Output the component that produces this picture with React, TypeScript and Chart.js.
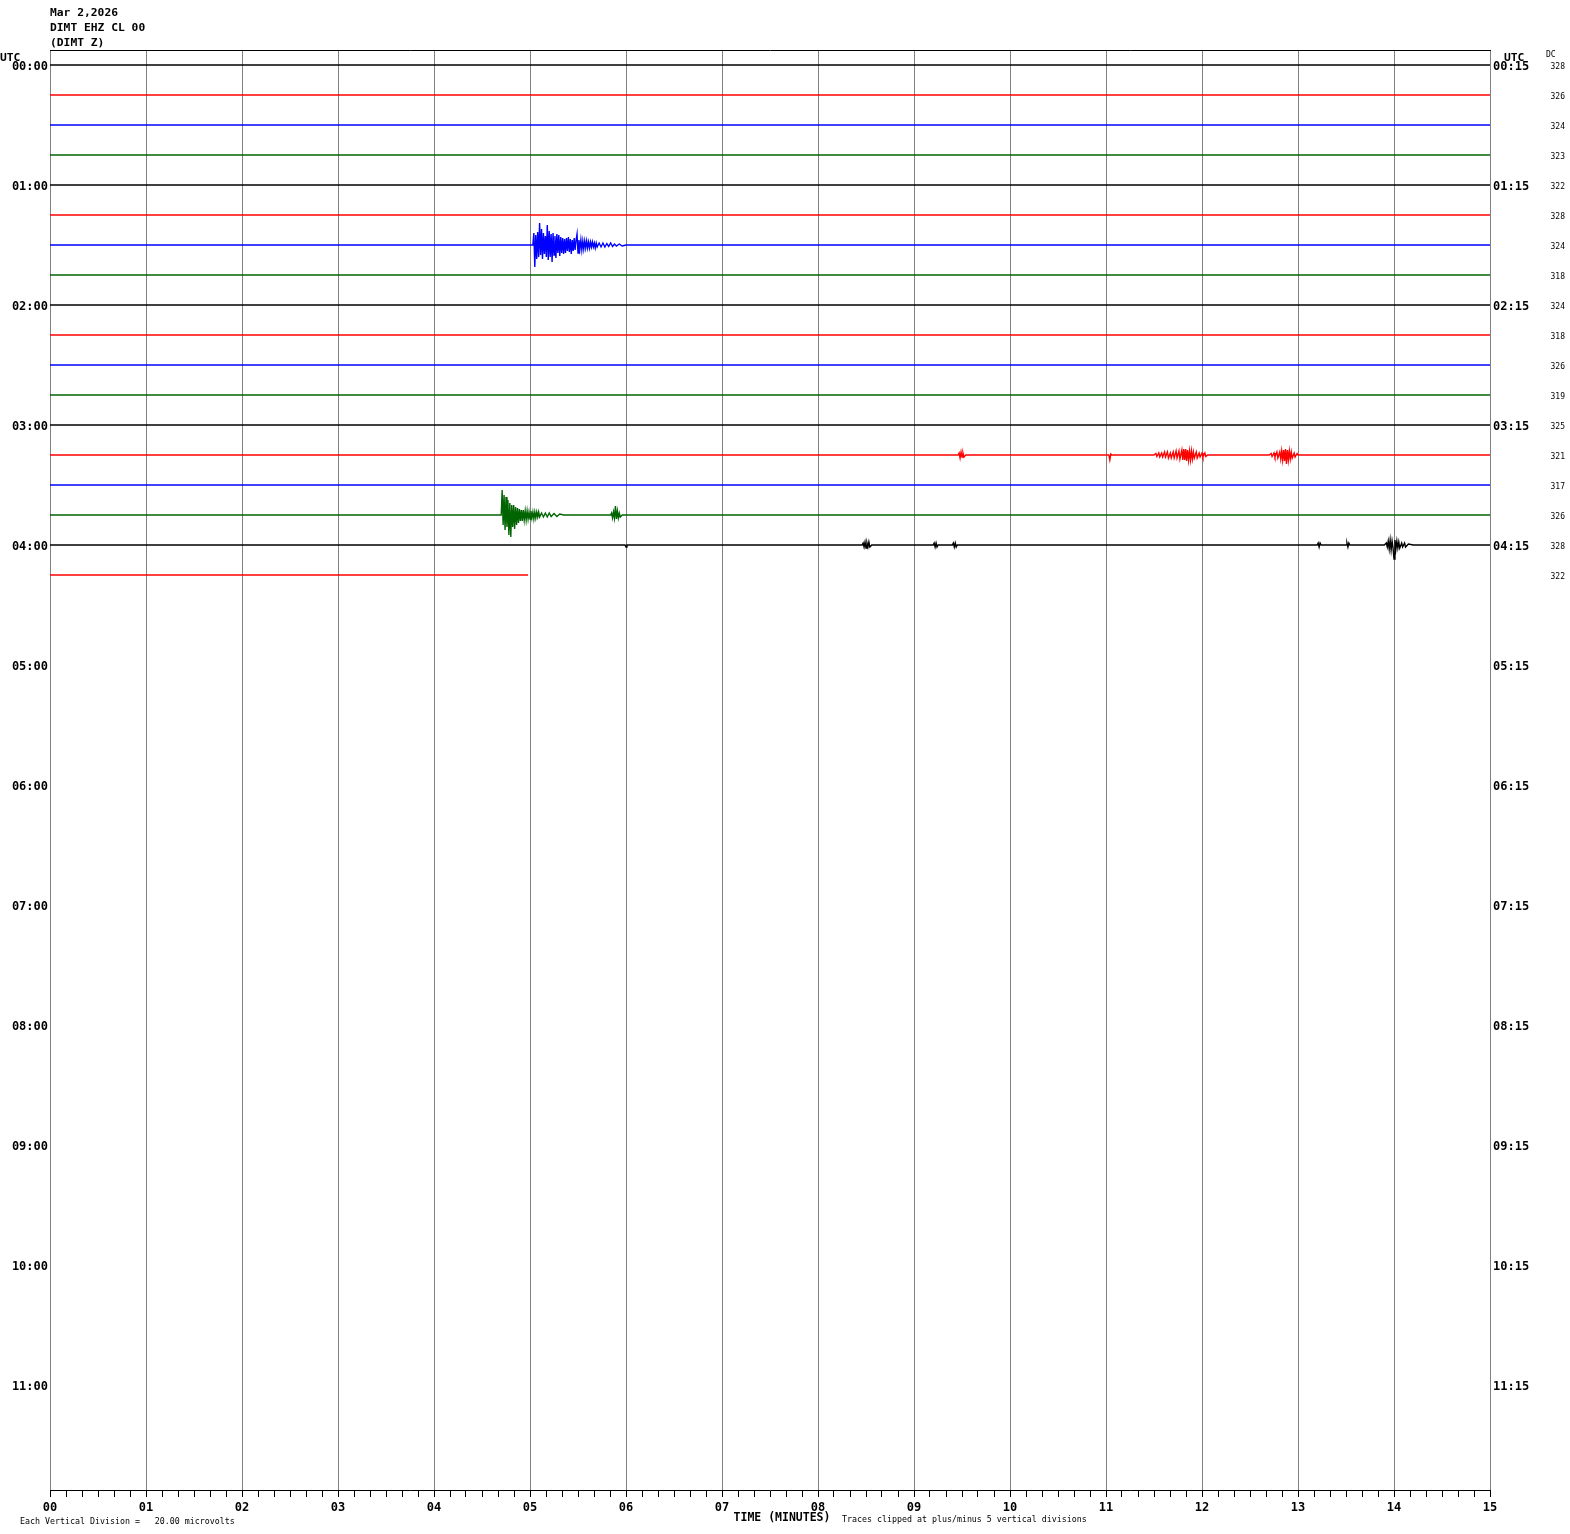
import React, { useEffect, useRef } from "react";
import { Chart, registerables } from "chart.js";

Chart.register(...registerables);

// ---------- DATA ----------
const TITLE_LINES = ["Mar 2,2026", "DIMT EHZ CL 00", "(DIMT Z)"];
const LEFT_LABELS = ["00:00", "01:00", "02:00", "03:00", "04:00", "05:00", "06:00", "07:00", "08:00", "09:00", "10:00", "11:00"];
const RIGHT_LABELS = ["00:15", "01:15", "02:15", "03:15", "04:15", "05:15", "06:15", "07:15", "08:15", "09:15", "10:15", "11:15"];
const X_TICK_LABELS = ["00", "01", "02", "03", "04", "05", "06", "07", "08", "09", "10", "11", "12", "13", "14", "15"];
const ROW_COLORS = ["#000000", "#ff0000", "#0000ff", "#006400"];
const DC_VALUES = [328, 326, 324, 323, 322, 328, 324, 318, 324, 318, 326, 319, 325, 321, 317, 326, 328, 322];
const ROW_END_MINUTES = [15, 15, 15, 15, 15, 15, 15, 15, 15, 15, 15, 15, 15, 15, 15, 15, 15, 4.98];
const TOTAL_ROWS = 48;

// events: [minute, offset in vertical px (up positive)]
const BLUE_0130_EVENT: [number, number][] = [
  [5.03, 0], [5.04, 12], [5.05, -22], [5.06, 10], [5.07, -14], [5.08, 13], [5.09, -12], [5.10, 22],
  [5.11, -10], [5.12, 16], [5.13, -14], [5.14, 12], [5.15, -9], [5.16, 9], [5.17, -12], [5.18, 20],
  [5.19, -15], [5.20, 14], [5.21, -12], [5.22, 11], [5.23, -17], [5.24, 12], [5.25, -10], [5.26, 9],
  [5.27, -13], [5.28, 11], [5.29, -8], [5.30, 10], [5.31, -11], [5.32, 8], [5.33, -8], [5.34, 7],
  [5.35, -9], [5.36, 6], [5.37, -8], [5.38, 7], [5.39, -6], [5.40, 8], [5.41, -7], [5.42, 6],
  [5.43, -9], [5.44, 5], [5.45, -6], [5.46, 7], [5.47, -5], [5.48, 5],
  [5.49, 11], [5.50, -8], [5.51, 5], [5.52, -4], [5.53, 5], [5.54, -5], [5.55, 4], [5.56, -4],
  [5.57, 4], [5.58, -3], [5.59, 4], [5.60, -3], [5.61, 3], [5.62, -3], [5.63, 3], [5.64, -2],
  [5.65, 3], [5.66, -2], [5.67, 2], [5.68, -3], [5.69, 2], [5.70, -2], [5.72, 2], [5.74, -2],
  [5.76, 2], [5.78, -2], [5.80, 1.5], [5.82, -1.5], [5.84, 2], [5.86, -1.5], [5.88, 1], [5.90, -1],
  [5.93, 1], [5.96, -1], [6.0, 0],
];
const GREEN_0345_EVENT: [number, number][] = [
  [4.70, 0], [4.71, 25], [4.72, -10], [4.73, 20], [4.74, -15], [4.75, 18], [4.76, -12], [4.77, 15],
  [4.78, -20], [4.79, 12], [4.80, -22], [4.81, 10], [4.82, -12], [4.83, 10], [4.84, -14], [4.85, 8],
  [4.86, -10], [4.87, 7], [4.88, -8], [4.89, 6], [4.90, -6], [4.91, 5], [4.92, -6], [4.93, 5],
  [4.94, -5], [4.95, 4], [4.96, -5], [4.97, 4], [4.98, -4], [4.99, 3], [5.00, -4], [5.01, 4],
  [5.02, -3], [5.03, 3], [5.04, -4], [5.05, 3], [5.06, -3], [5.07, 3], [5.08, -2], [5.09, 3],
  [5.10, -2], [5.12, 2], [5.14, -2], [5.16, 2], [5.18, -2], [5.20, 2], [5.22, -1.5], [5.25, 1.5],
  [5.28, -1.5], [5.31, 1], [5.35, 0],
  [5.84, 0], [5.85, 2], [5.86, -3], [5.87, 3], [5.88, -3], [5.89, 9], [5.90, -4], [5.91, 4],
  [5.92, -3], [5.93, 2], [5.94, -2], [5.96, 0],
];
const RED_0315_EVENT: [number, number][] = [
  [9.46, 0], [9.47, 2], [9.48, -3], [9.49, 3], [9.50, -2], [9.51, 2], [9.52, -2], [9.54, 0],
  [11.03, 0], [11.04, -5], [11.05, 1], [11.06, 0],
  [11.50, 0], [11.52, 1.5], [11.53, -1.5], [11.55, 2], [11.56, -2], [11.58, 2], [11.59, -2], [11.61, 3],
  [11.62, -2], [11.64, 3], [11.65, -3], [11.67, 2], [11.68, -3], [11.70, 3], [11.71, -3], [11.73, 4],
  [11.74, -3], [11.76, 4], [11.77, -4], [11.79, 5], [11.80, -5], [11.81, 6], [11.82, -5], [11.83, 6],
  [11.84, -6], [11.85, 5], [11.86, -5], [11.87, 4], [11.88, -5], [11.89, 4], [11.90, -4], [11.91, 3],
  [11.92, -3], [11.94, 3], [11.95, -3], [11.97, 2], [11.98, -2], [12.00, 2], [12.01, -2], [12.03, 2],
  [12.04, -1.5], [12.06, 0],
  [12.70, 0], [12.72, 1.5], [12.73, -1.5], [12.75, 2], [12.76, -2], [12.78, 3], [12.79, -3], [12.81, 3],
  [12.82, -4], [12.83, 4], [12.84, -5], [12.85, 5], [12.86, -6], [12.87, 6], [12.88, -9], [12.89, 5],
  [12.90, -5], [12.91, 4], [12.92, -4], [12.93, 3], [12.94, -3], [12.96, 2], [12.97, -2], [12.99, 1.5],
  [13.0, 0],
];
const BLACK_0400_EVENT: [number, number][] = [
  [5.99, 0], [6.0, -2], [6.01, 0],
  [8.46, 0], [8.47, 2], [8.48, -2], [8.49, 3], [8.50, -3], [8.51, 2], [8.52, -2], [8.53, 3], [8.54, -2], [8.56, 0],
  [9.20, 0], [9.21, 2], [9.22, -2], [9.23, 2], [9.24, -2], [9.25, 0],
  [9.40, 0], [9.41, 2], [9.42, -2], [9.43, 2], [9.44, -2], [9.45, 0],
  [13.20, 0], [13.21, 2], [13.22, -2], [13.23, 2], [13.24, 0],
  [13.50, 0], [13.51, 2], [13.52, -2], [13.53, 2], [13.54, 0],
  [13.90, 0], [13.92, 2], [13.93, -2], [13.94, 4], [13.95, -4], [13.96, 5], [13.97, -5], [13.98, 4],
  [13.99, -3], [14.00, -14], [14.01, 5], [14.02, -4], [14.03, 4], [14.04, -3], [14.05, 3], [14.06, -3],
  [14.08, 2], [14.09, -2], [14.11, 2], [14.12, -2], [14.15, 1], [14.2, 0],
];
const ROW_EVENTS: Record<number, [number, number][]> = {
  6: BLUE_0130_EVENT,
  13: RED_0315_EVENT,
  15: GREEN_0345_EVENT,
  16: BLACK_0400_EVENT,
};

const FOOT_LEFT = "Each Vertical Division =   20.00 microvolts";
const FOOT_MID = "TIME (MINUTES)";
const FOOT_RIGHT = "Traces clipped at plus/minus 5 vertical divisions";

// ---------- CHART ----------
const ROW_PX = 30;
const LABEL_SHIFT = 0.05;
const MONO = "'DejaVu Sans Mono', monospace";
const isMajor = (v: number) => Math.abs(v - Math.round(v)) < 1e-6;

function buildDatasets() {
  return DC_VALUES.map((_, row) => {
    const ev = ROW_EVENTS[row] || [];
    const pts = [{ x: 0, y: row }];
    ev.forEach(([m, off]) => pts.push({ x: m, y: row - off / ROW_PX }));
    pts.push({ x: ROW_END_MINUTES[row], y: row });
    pts.sort((a, b) => a.x - b.x);
    return {
      data: pts,
      borderColor: ROW_COLORS[row % 4],
      borderWidth: 1.4,
      pointRadius: 0,
      tension: 0,
      fill: false,
      yAxisID: "y",
    };
  });
}

const textPlugin = {
  id: "helitext",
  afterDraw(chart: any) {
    const { ctx, chartArea } = chart;
    const yScale = chart.scales.y;
    ctx.save();
    ctx.strokeStyle = "#000";
    ctx.lineWidth = 1;
    ctx.beginPath();
    ctx.moveTo(chartArea.left, chartArea.top + 0.5);
    ctx.lineTo(chartArea.right + 1, chartArea.top + 0.5);
    ctx.stroke();

    ctx.fillStyle = "#000";
    ctx.textAlign = "left";
    ctx.textBaseline = "alphabetic";
    ctx.font = `bold 11.3px ${MONO}`;
    TITLE_LINES.forEach((t, i) => ctx.fillText(t, 50, 16 + i * 15));

    ctx.font = `bold 11.3px ${MONO}`;
    ctx.fillText("UTC", 0, 60.5);
    ctx.fillText("UTC", 1504, 60.5);

    ctx.font = `8px ${MONO}`;
    ctx.fillText("DC", 1546, 57);
    ctx.textAlign = "right";
    ctx.textBaseline = "middle";
    DC_VALUES.forEach((v, row) => {
      ctx.fillText(String(v), 1565, yScale.getPixelForValue(row) + 1.5);
    });

    ctx.textAlign = "left";
    ctx.textBaseline = "alphabetic";
    ctx.font = `8.3px ${MONO}`;
    ctx.fillText(FOOT_LEFT, 20, 1524);
    ctx.fillText(FOOT_RIGHT, 842, 1521.5);
    ctx.font = `bold 11.5px ${MONO}`;
    ctx.textAlign = "center";
    ctx.fillText(FOOT_MID, 782, 1520.5);
    ctx.restore();
  },
};

export default function App() {
  const ref = useRef<HTMLCanvasElement | null>(null);
  useEffect(() => {
    document.body.style.margin = "0";
    const canvas = ref.current;
    if (!canvas) return;
    const chart = new Chart(canvas, {
      type: "line",
      data: { datasets: buildDatasets() as any },
      options: {
        animation: false,
        responsive: false,
        devicePixelRatio: 1,
        parsing: false as any,
        normalized: true,
        layout: { padding: { top: 50, left: 0, right: 0, bottom: 0 } },
        plugins: { legend: { display: false }, tooltip: { enabled: false } },
        scales: {
          x: {
            type: "linear",
            position: "bottom",
            min: 0,
            max: 15,
            afterBuildTicks: (s: any) => {
              const t = [];
              for (let i = 0; i <= 90; i++) t.push({ value: i / 6 });
              s.ticks = t;
            },
            afterFit: (s: any) => {
              s.height = 44;
            },
            grid: {
              color: (c: any) => (c.tick && isMajor(c.tick.value) ? "#808080" : "rgba(0,0,0,0)"),
              lineWidth: 1,
              drawTicks: true,
              tickLength: 7,
              tickColor: "#000",
              tickWidth: 1,
            },
            border: { display: true, color: "#000", width: 1 },
            ticks: {
              autoSkip: false,
              maxRotation: 0,
              padding: 4,
              color: "#000",
              font: { family: MONO, size: 12, weight: "bold" },
              callback: (v: any) => (isMajor(v) ? X_TICK_LABELS[Math.round(v)] : ""),
            },
          },
          y: {
            type: "linear",
            position: "left",
            reverse: true,
            min: -0.5,
            max: TOTAL_ROWS - 0.5,
            afterBuildTicks: (s: any) => {
              s.ticks = LEFT_LABELS.map((_, i) => ({ value: i * 4 + LABEL_SHIFT }));
            },
            afterFit: (s: any) => {
              s.width = 50;
            },
            grid: { display: false, drawTicks: false },
            border: { display: false },
            ticks: {
              padding: 2,
              color: "#000",
              autoSkip: false,
              font: { family: MONO, size: 12, weight: "bold" },
              callback: (v: any) => LEFT_LABELS[Math.round(v / 4)],
            },
          },
          y2: {
            type: "linear",
            position: "right",
            reverse: true,
            min: -0.5,
            max: TOTAL_ROWS - 0.5,
            afterBuildTicks: (s: any) => {
              s.ticks = RIGHT_LABELS.map((_, i) => ({ value: i * 4 + LABEL_SHIFT + 0.02 }));
            },
            afterFit: (s: any) => {
              s.width = 80;
            },
            grid: { display: false, drawTicks: false },
            border: { display: false },
            ticks: {
              padding: 3,
              color: "#000",
              autoSkip: false,
              font: { family: MONO, size: 12, weight: "bold" },
              callback: (v: any) => RIGHT_LABELS[Math.round(v / 4)],
            },
          },
        },
      } as any,
      plugins: [textPlugin],
    });
    return () => chart.destroy();
  }, []);
  return (
    <div style={{ width: 1570, height: 1534, background: "#fff" }}>
      <canvas ref={ref} width={1570} height={1534} style={{ display: "block" }} />
    </div>
  );
}
